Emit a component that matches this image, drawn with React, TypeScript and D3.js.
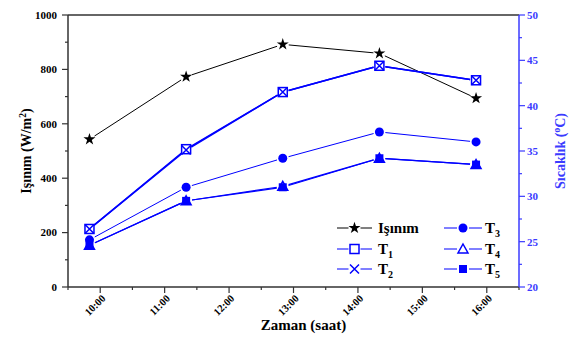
import React from "react";
import * as d3 from "d3";

const times = ["09:50", "11:20", "12:50", "14:20", "15:50"];
const isinim = [543, 773, 892, 859, 694];
const T1 = [26.4, 35.2, 41.5, 44.4, 42.8];
const T2 = [26.4, 35.1, 41.5, 44.4, 42.8];
const T3 = [25.2, 31.0, 34.2, 37.1, 36.0];
const T4 = [24.6, 29.5, 31.1, 34.2, 33.5];
const T5 = [24.6, 29.5, 31.0, 34.2, 33.5];
const xTickLabels = ["10:00", "11:00", "12:00", "13:00", "14:00", "15:00", "16:00"];
const leftTicks = [0, 200, 400, 600, 800, 1000];
const rightTicks = [20, 25, 30, 35, 40, 45, 50];

const BLUE = "#0000ff";
const AXBLUE = "#3b3bff";
const FONT = "Liberation Serif";

const toH = (s: string) => {
  const [h, m] = s.split(":").map(Number);
  return h + m / 60;
};

const L = 68, R = 519, T = 15, B = 287;
const x = d3.scaleLinear().domain([9.5, 16.5]).range([L, R]);
const yL = d3.scaleLinear().domain([0, 1000]).range([B, T]);
const yR = d3.scaleLinear().domain([20, 50]).range([B, T]);

function gapped(pts: [number, number][], g: number) {
  const segs: string[] = [];
  for (let i = 0; i < pts.length - 1; i++) {
    const [x1, y1] = pts[i];
    const [x2, y2] = pts[i + 1];
    const dx = x2 - x1, dy = y2 - y1;
    const len = Math.hypot(dx, dy);
    const ux = dx / len, uy = dy / len;
    segs.push(`M${x1 + ux * g},${y1 + uy * g}L${x2 - ux * g},${y2 - uy * g}`);
  }
  return segs.join("");
}

type MK = "star" | "sq" | "x" | "circle" | "tri" | "fsq";

function Marker({ type, cx, cy, color }: { type: MK; cx: number; cy: number; color: string }) {
  if (type === "star") {
    const p = d3.symbol().type(d3.symbolStar).size(45)();
    return <path d={p || ""} transform={`translate(${cx},${cy})`} fill={color} />;
  }
  if (type === "sq") return <rect x={cx - 4.5} y={cy - 4.5} width={9} height={9} fill="white" stroke={color} strokeWidth={1.5} />;
  if (type === "fsq") return <rect x={cx - 4} y={cy - 4} width={8} height={8} fill={color} />;
  if (type === "x") return <path d={`M${cx - 4.5},${cy - 4.5}L${cx + 4.5},${cy + 4.5}M${cx - 4.5},${cy + 4.5}L${cx + 4.5},${cy - 4.5}`} stroke={color} strokeWidth={1.5} />;
  if (type === "circle") return <circle cx={cx} cy={cy} r={4.5} fill={color} />;
  return <path d={`M${cx},${cy - 5}L${cx + 5},${cy + 4}L${cx - 5},${cy + 4}Z`} fill="white" stroke={color} strokeWidth={1.5} />;
}

const seriesDefs: { name: string; sub?: string; data: number[]; axis: "L" | "R"; color: string; marker: MK; w: number }[] = [
  { name: "Işınım", data: isinim, axis: "L", color: "#000", marker: "star", w: 1 },
  { name: "T", sub: "1", data: T1, axis: "R", color: BLUE, marker: "sq", w: 1.5 },
  { name: "T", sub: "2", data: T2, axis: "R", color: BLUE, marker: "x", w: 1.5 },
  { name: "T", sub: "3", data: T3, axis: "R", color: BLUE, marker: "circle", w: 1 },
  { name: "T", sub: "4", data: T4, axis: "R", color: BLUE, marker: "tri", w: 1.2 },
  { name: "T", sub: "5", data: T5, axis: "R", color: BLUE, marker: "fsq", w: 1.2 },
];

export default function App() {
  const xs = times.map(toH);
  const hourTicks = xTickLabels.map(toH);
  const minorX = d3.range(9.5, 16.51, 1);
  const minorL = d3.range(100, 1000, 200);
  const minorR = d3.range(22.5, 50, 5);
  const legendRows = [228, 249, 269];
  const legendCols = [{ x0: 337, x1: 372, tx: 378 }, { x0: 444, x1: 482, tx: 485 }];
  const legendOrder = [0, 1, 2, 3, 4, 5];

  return (
    <svg width={571} height={342} style={{ position: "absolute", left: 0, top: 0 }}>
      <rect width={571} height={342} fill="white" />
      <line x1={L} x2={R} y1={T} y2={T} stroke="#333" strokeWidth={1.5} />
      <line x1={L} x2={L} y1={T} y2={B} stroke="#333" strokeWidth={1.5} />
      {leftTicks.map((v) => (
        <g key={v}>
          <line x1={L - 6} x2={L} y1={yL(v)} y2={yL(v)} stroke="#333" strokeWidth={1.2} />
          <text x={L - 11} y={yL(v)} dy="0.35em" textAnchor="end" fontSize={11} fontWeight="bold" fontFamily={FONT}>{v}</text>
        </g>
      ))}
      {minorL.map((v) => (
        <line key={v} x1={L - 3} x2={L} y1={yL(v)} y2={yL(v)} stroke="#333" strokeWidth={1.2} />
      ))}
      <line x1={L} x2={R} y1={B} y2={B} stroke="#333" strokeWidth={1.5} />
      {hourTicks.map((h, i) => (
        <g key={h}>
          <line x1={x(h)} x2={x(h)} y1={B} y2={B + 6} stroke="#333" strokeWidth={1.2} />
          <text transform={`translate(${x(h) + 6},${B + 12}) rotate(-45)`} textAnchor="end" fontSize={10.5} fontWeight="bold" fontFamily={FONT}>{xTickLabels[i]}</text>
        </g>
      ))}
      {minorX.map((h) => (
        <line key={h} x1={x(h)} x2={x(h)} y1={B} y2={B + 3} stroke="#333" strokeWidth={1.2} />
      ))}
      <text x={(L + R) / 2 + 10} y={330} textAnchor="middle" fontSize={15} fontWeight="bold" fontFamily={FONT}>Zaman (saat)</text>
      <line x1={R} x2={R} y1={T} y2={B} stroke={AXBLUE} strokeWidth={1.5} />
      {rightTicks.map((v) => (
        <g key={v}>
          <line x1={R} x2={R + 6} y1={yR(v)} y2={yR(v)} stroke={AXBLUE} strokeWidth={1.2} />
          <text x={R + 8} y={yR(v)} dy="0.35em" fontSize={11} fontWeight="bold" fill={AXBLUE} fontFamily={FONT}>{v}</text>
        </g>
      ))}
      {minorR.map((v) => (
        <line key={v} x1={R} x2={R + 3} y1={yR(v)} y2={yR(v)} stroke={AXBLUE} strokeWidth={1.2} />
      ))}
      <text transform={`translate(31,151) rotate(-90)`} textAnchor="middle" fontSize={14} fontWeight="bold" fontFamily={FONT}>
        Işınım (W/m<tspan dy={-5} fontSize={9.5}>2</tspan><tspan dy={5}>)</tspan>
      </text>
      <text transform={`translate(565,151) rotate(-90)`} textAnchor="middle" fontSize={14} fontWeight="bold" fill={AXBLUE} fontFamily={FONT}>
        Sıcaklık (<tspan dy={-5} fontSize={9.5}>o</tspan><tspan dy={5}>C)</tspan>
      </text>
      {seriesDefs.map((s, si) => {
        const ys = s.axis === "L" ? yL : yR;
        const pts = s.data.map((v, i) => [x(xs[i]), ys(v)] as [number, number]);
        return (
          <g key={si}>
            <path d={gapped(pts, 6)} stroke={s.color} strokeWidth={s.w} fill="none" />
            {pts.map(([px, py], i) => (
              <Marker key={i} type={s.marker} cx={px} cy={py} color={s.color} />
            ))}
          </g>
        );
      })}
      {legendOrder.map((si, k) => {
        const s = seriesDefs[si];
        const col = legendCols[k < 3 ? 0 : 1];
        const ry = legendRows[k % 3];
        const mx = (col.x0 + col.x1) / 2;
        return (
          <g key={k}>
            <path d={`M${col.x0},${ry}L${mx - 6},${ry}M${mx + 6},${ry}L${col.x1},${ry}`} stroke={s.color} strokeWidth={1} />
            <Marker type={s.marker} cx={mx} cy={ry} color={s.color} />
            <text x={col.tx} y={ry} dy="0.35em" fontSize={15} fontWeight="bold" fontFamily={FONT}>
              {s.name}
              {s.sub && <tspan dy={4} fontSize={10}>{s.sub}</tspan>}
            </text>
          </g>
        );
      })}
    </svg>
  );
}
